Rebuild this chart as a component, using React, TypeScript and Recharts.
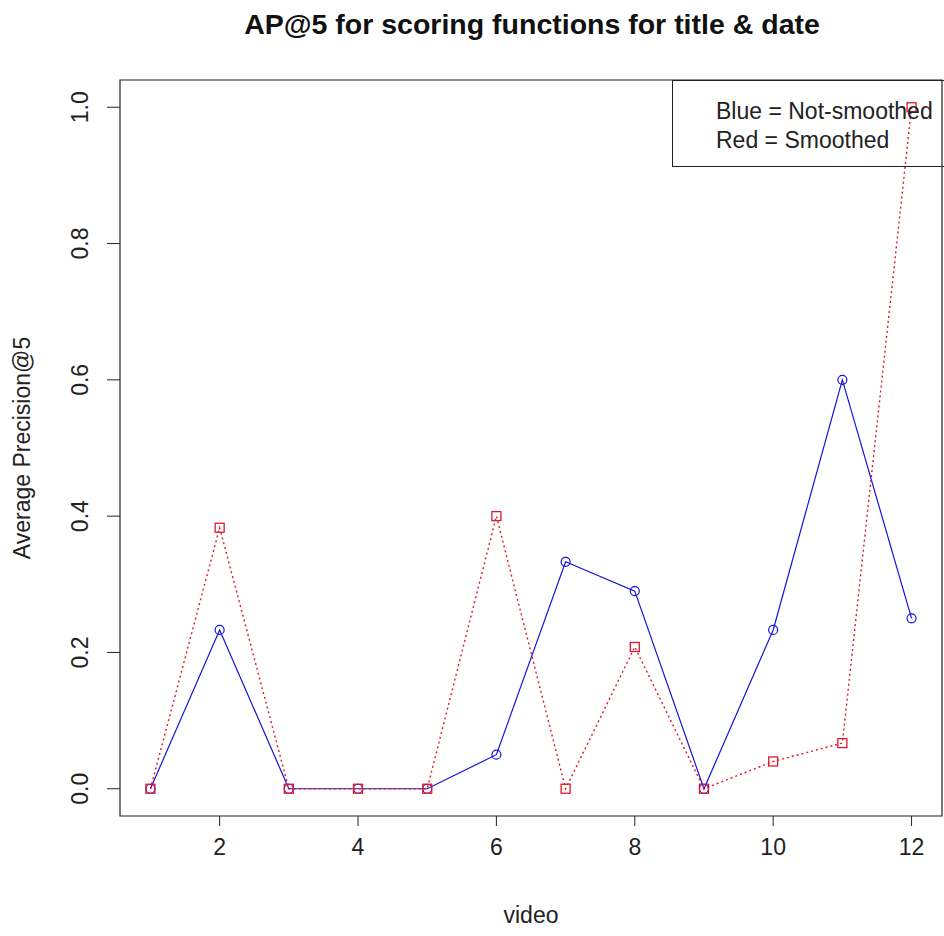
import React from 'react';
import { LineChart, Line, XAxis, YAxis, ReferenceArea, Label } from 'recharts';

const videos = [1, 2, 3, 4, 5, 6, 7, 8, 9, 10, 11, 12];
const notSmoothed = [0, 0.233, 0, 0, 0, 0.05, 0.333, 0.29, 0, 0.233, 0.6, 0.25];
const smoothed = [0, 0.383, 0, 0, 0, 0.4, 0, 0.208, 0, 0.04, 0.067, 1.0];
const xTicks = [2, 4, 6, 8, 10, 12];
const yTicks = [0, 0.2, 0.4, 0.6, 0.8, 1.0];

const BLUE = '#1414d8';
const RED = '#e0182a';
const FONT = '"Liberation Sans", Arial, sans-serif';
const FS = 23;

const data = videos.map((v, i) => ({
  video: v,
  notSmoothed: notSmoothed[i],
  smoothed: smoothed[i],
}));

const CircleDot = (props: any) => {
  const { cx, cy, index } = props;
  return <circle key={`c-${index}`} cx={cx} cy={cy} r={4.5} fill="none" stroke={BLUE} strokeWidth={1.2} />;
};

const SquareDot = (props: any) => {
  const { cx, cy, index } = props;
  return (
    <rect key={`s-${index}`} x={cx - 4.5} y={cy - 4.5} width={9} height={9} fill="none" stroke={RED} strokeWidth={1.3} />
  );
};

const YTick = (props: any) => {
  const { x, y, payload } = props;
  return (
    <text
      x={x}
      y={y}
      transform={`rotate(-90 ${x} ${y})`}
      textAnchor="middle"
      fontSize={FS}
      fontFamily={FONT}
      fill="#222"
    >
      {payload.value.toFixed(1)}
    </text>
  );
};

const YLabel = (props: any) => {
  const { viewBox } = props;
  const cy = viewBox.y + viewBox.height / 2;
  const cx = 30;
  return (
    <text
      x={cx}
      y={cy}
      transform={`rotate(-90 ${cx} ${cy})`}
      textAnchor="middle"
      fontSize={FS}
      fontFamily={FONT}
      fill="#222"
    >
      Average Precision@5
    </text>
  );
};

export default function App() {
  return (
    <div style={{ position: 'absolute', left: 0, top: 0, width: 944, height: 936, background: '#fff', fontFamily: FONT }}>
      <div
        style={{
          position: 'absolute',
          top: 7,
          left: 120,
          width: 824,
          textAlign: 'center',
          fontSize: 28.5,
          lineHeight: '34px',
          fontWeight: 'bold',
          color: '#111',
        }}
      >
        AP@5 for scoring functions for title &amp; date
      </div>
      <LineChart width={944} height={936} data={data} margin={{ top: 80, right: 2, bottom: 0, left: 0 }}>
        <XAxis
          dataKey="video"
          type="number"
          domain={[0.56, 12.44]}
          ticks={xTicks}
          axisLine={false}
          tickSize={10}
          tickMargin={13}
          height={120}
          tickLine={{ stroke: '#222' }}
          tick={{ fontSize: FS, fontFamily: FONT, fill: '#222' }}
        >
          <Label value="video" position="insideBottom" offset={13} fontSize={FS} fontFamily={FONT} fill="#222" />
        </XAxis>
        <YAxis
          type="number"
          domain={[-0.04, 1.04]}
          ticks={yTicks}
          axisLine={false}
          width={120}
          tickSize={13}
          tickMargin={19}
          tickLine={{ stroke: '#222' }}
          tick={<YTick />}
        >
          <Label content={<YLabel />} />
        </YAxis>
        <ReferenceArea x1={0.56} x2={12.44} y1={-0.04} y2={1.04} fill="none" stroke="#222" strokeWidth={1.2} />
        <Line
          dataKey="notSmoothed"
          stroke={BLUE}
          strokeWidth={1.2}
          dot={<CircleDot />}
          isAnimationActive={false}
        />
        <Line
          dataKey="smoothed"
          stroke={RED}
          strokeWidth={1.4}
          strokeDasharray="2 3"
          dot={<SquareDot />}
          isAnimationActive={false}
        />
      </LineChart>
      <div
        style={{
          position: 'absolute',
          left: 672,
          top: 80,
          width: 276,
          height: 87,
          border: '1.2px solid #222',
          boxSizing: 'border-box',
          fontSize: FS,
          color: '#222',
          lineHeight: '29px',
          paddingTop: 16,
          paddingLeft: 43,
          whiteSpace: 'nowrap',
        }}
      >
        <div>Blue = Not-smoothed</div>
        <div>Red = Smoothed</div>
      </div>
    </div>
  );
}
